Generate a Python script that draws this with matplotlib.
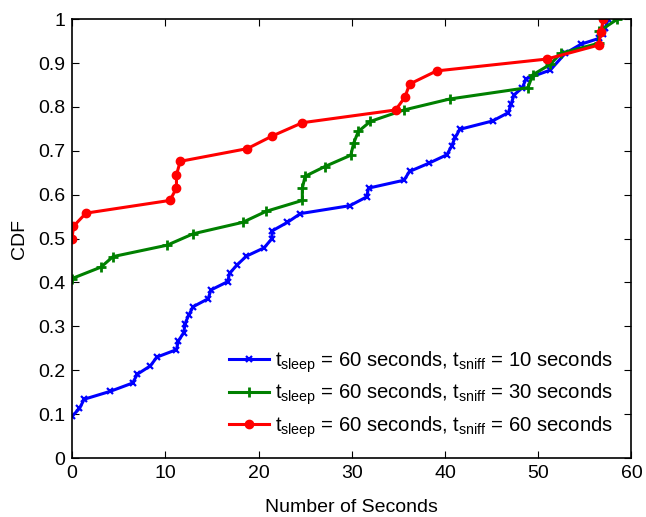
import matplotlib
matplotlib.use('Agg')
import matplotlib.pyplot as plt

plt.rcParams['font.family'] = ['Liberation Sans', 'DejaVu Sans']
plt.rcParams['mathtext.fontset'] = 'custom'
plt.rcParams['mathtext.rm'] = 'Liberation Sans'
plt.rcParams['mathtext.it'] = 'Liberation Sans'

# t_sniff = 10 s
x_10 = [0.0, 0.8, 1.3, 4.1, 6.5, 7.0, 8.4, 9.1, 11.2, 11.4, 12.0, 12.1, 12.5, 13.0,
        14.6, 14.9, 16.7, 16.9, 17.7, 18.7, 20.6, 21.4, 21.5, 23.1, 24.5, 29.8,
        31.6, 31.8, 35.6, 36.2, 38.3, 40.2, 40.7, 41.1, 41.6, 45.1, 46.8, 47.1,
        47.4, 48.3, 48.7, 51.3, 52.9, 54.6, 56.5, 56.9, 57.2, 57.5]
y_10 = [0.095, 0.113, 0.134, 0.152, 0.171, 0.191, 0.210, 0.230, 0.247, 0.267, 0.286,
        0.305, 0.325, 0.345, 0.363, 0.383, 0.402, 0.421, 0.440, 0.460, 0.479, 0.499,
        0.518, 0.537, 0.557, 0.575, 0.595, 0.615, 0.633, 0.653, 0.672, 0.691, 0.710,
        0.731, 0.749, 0.768, 0.787, 0.807, 0.827, 0.844, 0.864, 0.884, 0.922, 0.943,
        0.956, 0.967, 0.980, 1.0]

# t_sniff = 30 s
x_30 = [0.0, 3.1, 4.4, 10.2, 13.0, 18.3, 20.8, 24.7, 24.7, 25.0, 27.1, 29.9, 30.2,
        30.7, 32.0, 35.6, 40.5, 48.9, 49.4, 51.3, 52.4, 56.5, 56.5, 58.5]
y_30 = [0.409, 0.435, 0.459, 0.485, 0.511, 0.537, 0.562, 0.587, 0.615, 0.642, 0.664,
        0.690, 0.717, 0.744, 0.767, 0.793, 0.818, 0.844, 0.873, 0.897, 0.922, 0.945,
        0.972, 1.0]

# t_sniff = 60 s
x_60 = [0.0, 0.15, 1.5, 10.5, 11.2, 11.2, 11.6, 18.8, 21.5, 24.7, 34.7, 35.7, 36.2,
        39.1, 50.9, 56.5, 56.7, 57.0]
y_60 = [0.499, 0.528, 0.558, 0.587, 0.615, 0.645, 0.676, 0.705, 0.734, 0.764, 0.793,
        0.822, 0.852, 0.882, 0.909, 0.941, 0.970, 1.0]

labels = [r'$t_{\mathrm{sleep}}$ = 60 seconds, $t_{\mathrm{sniff}}$ = 10 seconds',
          r'$t_{\mathrm{sleep}}$ = 60 seconds, $t_{\mathrm{sniff}}$ = 30 seconds',
          r'$t_{\mathrm{sleep}}$ = 60 seconds, $t_{\mathrm{sniff}}$ = 60 seconds']

fig = plt.figure(figsize=(6.46, 5.17), dpi=100)
ax = fig.add_axes([0.1115, 0.114, 0.866, 0.849])

ax.plot(x_10, y_10, color='#0000ff', lw=2.2, marker='x', ms=5, mew=1.6, label=labels[0])
ax.plot(x_30, y_30, color='#008000', lw=2.2, marker='+', ms=7, mew=2, label=labels[1])
ax.plot(x_60, y_60, color='#ff0000', lw=2.2, marker='o', ms=6, label=labels[2])

ax.set_xlim(0, 60)
ax.set_ylim(0, 1)
ax.set_xticks(range(0, 61, 10))
ax.set_yticks([i / 10 for i in range(11)])
ax.set_yticklabels(['0', '0.1', '0.2', '0.3', '0.4', '0.5', '0.6', '0.7', '0.8', '0.9', '1'])
ax.tick_params(direction='in', top=True, right=True, labelsize=14, length=5, pad=5)
for s in ax.spines.values():
    s.set_linewidth(1.2)

ax.set_xlabel('Number of Seconds', fontsize=14, labelpad=12)
ax.set_ylabel('CDF', fontsize=14, labelpad=7)

leg = ax.legend(loc='lower right', frameon=False, fontsize=14.6, handlelength=2.0,
                handletextpad=0.3, labelspacing=0.35, borderaxespad=0.5)

fig.savefig('out.png', dpi=100)
